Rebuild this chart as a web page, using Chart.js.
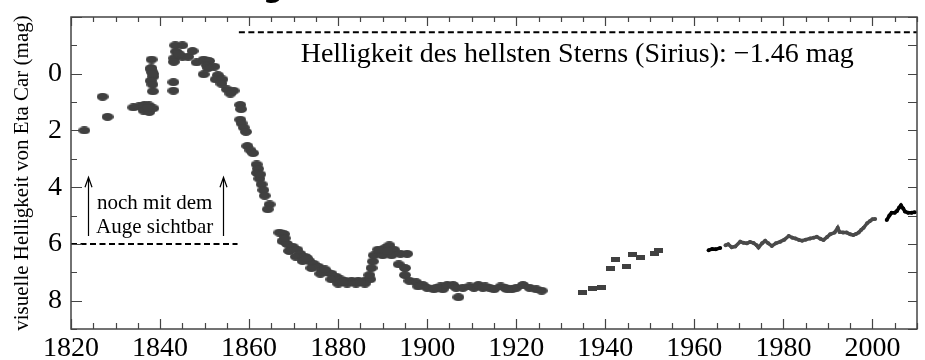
<!DOCTYPE html>
<html>
<head>
<meta charset="utf-8">
<script src="https://cdn.jsdelivr.net/npm/chart.js@4.4.1/dist/chart.umd.min.js"></script>
<style>
  html, body { margin: 0; padding: 0; background: #fff; }
  #wrap { position: relative; width: 925px; height: 360px; }
</style>
</head>
<body>
<div id="wrap"><canvas id="lightcurve" width="925" height="360"></canvas></div>
<script>
/* axis labels */
var xLabels = [1820, 1840, 1860, 1880, 1900, 1920, 1940, 1960, 1980, 2000];
var yLabels = [0, 2, 4, 6, 8];

/* historical visual estimates, 1822-1926 */
var histYears = [1823.0, 1827.1, 1828.2, 1834.0, 1835.3, 1836.5, 1837.5, 1836.3, 1837.6, 1838.5,
  1838.1, 1838.0, 1838.3, 1838.5, 1837.9, 1838.3, 1838.4, 1843.0, 1843.0, 1843.4,
  1845.0, 1843.6, 1843.2, 1845.0, 1846.3, 1843.1, 1847.3, 1848.2, 1849.8, 1851.0,
  1850.5, 1852.2, 1849.8, 1853.0, 1852.5, 1854.0, 1855.0, 1856.5, 1855.8, 1858.0,
  1858.2, 1858.0, 1858.3, 1858.8, 1859.3, 1859.6, 1860.3, 1860.9, 1861.7, 1862.0,
  1861.8, 1862.3, 1862.8, 1863.2, 1863.5, 1864.6, 1864.2, 1866.8, 1867.8, 1867.5,
  1868.5, 1869.8, 1869.0, 1870.8, 1871.5, 1870.5, 1872.5, 1873.5, 1872.0, 1874.5,
  1875.5, 1874.0, 1876.5, 1877.5, 1876.0, 1878.5, 1879.5, 1878.5, 1880.5, 1881.5,
  1883.0, 1884.5, 1886.0, 1887.2, 1880.0, 1882.0, 1884.0, 1886.0, 1887.0, 1887.5,
  1887.8, 1888.0, 1889.5, 1890.5, 1891.5, 1892.5, 1890.0, 1892.0, 1894.0, 1895.5,
  1893.6, 1895.0, 1895.0, 1896.0, 1897.5, 1899.0, 1898.0, 1900.0, 1901.5, 1903.0,
  1903.5, 1904.5, 1905.8, 1906.5, 1907.0, 1908.0, 1909.5, 1910.5, 1911.5, 1912.5,
  1914.0, 1915.0, 1916.5, 1917.5, 1919.0, 1920.0, 1921.5, 1923.0, 1924.5, 1925.7,
  1838.0, 1838.4, 1837.2, 1844.2, 1850.8, 1853.8, 1862.5, 1868.0, 1873.0, 1877.0,
  1881.0, 1885.0, 1889.0, 1891.0, 1902.0, 1913.0, 1918.0];
var histMags = [2.0, 0.81, 1.52, 1.19, 1.15, 1.1, 1.12, 1.3, 1.35, 1.22,
  -0.5, -0.2, -0.05, 0.1, 0.25, 0.38, 0.62, 0.30, 0.6, -1.0,
  -1.0, -0.78, -0.55, -0.6, -0.6, -0.42, -0.8, -0.4, -0.5, -0.45,
  -0.3, -0.25, 0.02, 0.05, 0.2, 0.2, 0.55, 0.6, 0.7, 1.1,
  1.25, 1.62, 1.75, 1.9, 2.05, 2.55, 2.7, 2.8, 3.2, 3.35,
  3.5, 3.7, 3.9, 4.1, 4.3, 4.61, 4.78, 5.6, 5.65, 5.9,
  6.0, 6.1, 6.25, 6.2, 6.35, 6.45, 6.45, 6.6, 6.6, 6.7,
  6.8, 6.85, 6.95, 7.0, 7.05, 7.05, 7.15, 7.25, 7.25, 7.3,
  7.3, 7.3, 7.3, 7.25, 7.4, 7.4, 7.4, 7.4, 7.1, 6.85,
  6.62, 6.4, 6.3, 6.15, 6.05, 6.2, 6.4, 6.4, 6.35, 6.35,
  6.72, 6.85, 7.1, 7.3, 7.35, 7.45, 7.5, 7.55, 7.6, 7.5,
  7.6, 7.45, 7.45, 7.55, 7.88, 7.55, 7.5, 7.55, 7.45, 7.55,
  7.55, 7.6, 7.5, 7.55, 7.6, 7.55, 7.45, 7.55, 7.6, 7.65,
  -0.15, 0.0, 1.2, -0.7, -0.2, 0.35, 3.55, 5.8, 6.5, 6.9,
  7.35, 7.35, 6.2, 6.25, 7.55, 7.5, 7.6];

/* photographic values, 1934-1952 */
var photoYears = [1934.8, 1937.1, 1939.1, 1941.2, 1942.3, 1944.7, 1946.0, 1948.0, 1951.0, 1952.0];
var photoMags  = [7.73, 7.57, 7.54, 6.85, 6.55, 6.8, 6.36, 6.48, 6.33, 6.22];

/* photoelectric series */
var earlyYears = [1963.2, 1964.0, 1964.8, 1965.8];
var earlyMags  = [6.22, 6.18, 6.19, 6.14];

var modernYears = [1967.0, 1967.6, 1968.4, 1969.2, 1970.3, 1971.0, 1971.8, 1972.5, 1973.3, 1974.0,
  1974.4, 1975.2, 1975.9, 1976.6, 1977.4, 1978.3, 1979.3, 1980.2, 1981.2, 1982.0,
  1982.7, 1983.5, 1984.2, 1985.0, 1986.0, 1986.8, 1987.5, 1988.3, 1989.0, 1989.8,
  1990.5, 1991.5, 1992.2, 1992.6, 1993.4, 1994.2, 1995.0, 1995.7, 1996.3, 1996.9,
  1997.5, 1998.0, 1998.8, 1999.4, 2000.0, 2000.6];
var modernMags = [6.05, 6.01, 6.12, 6.09, 5.92, 5.96, 5.98, 5.93, 5.97, 6.05,
  6.13, 5.98, 5.89, 5.98, 6.07, 5.98, 5.92, 5.85, 5.72, 5.78,
  5.81, 5.86, 5.89, 5.85, 5.81, 5.78, 5.75, 5.82, 5.86, 5.76,
  5.66, 5.6, 5.43, 5.58, 5.6, 5.6, 5.66, 5.69, 5.65, 5.6,
  5.5, 5.43, 5.27, 5.2, 5.13, 5.12];

var recentYears = [2003.2, 2003.8, 2004.3, 2005.0, 2005.5, 2006.0, 2006.4, 2006.9, 2007.3, 2008.0, 2008.8, 2009.5];
var recentMags  = [5.16, 5.0, 4.9, 4.9, 4.84, 4.72, 4.64, 4.75, 4.86, 4.9, 4.9, 4.88];

/* reference levels */
var siriusMag = -1.46;
var siriusYears = [1857.7, 2010];
var nakedEyeMag = 6;
var nakedEyeYears = [1820, 1857.4];

var serif = '"Liberation Serif", "Times New Roman", serif';
var pointGrey = '#404040';

function toPoints(xs, ys) {
  var pts = [];
  for (var i = 0; i < xs.length; i++) {
    pts.push({ x: xs[i], y: ys[i] });
  }
  return pts;
}

/* small offscreen sprites used as point styles */
function makeSprite(w, h, rounded) {
  var c = document.createElement('canvas');
  c.width = w;
  c.height = h;
  var g = c.getContext('2d');
  g.fillStyle = pointGrey;
  if (rounded) {
    g.beginPath();
    g.ellipse(w / 2, h / 2, w / 2, h / 2, 0, 0, Math.PI * 2);
    g.fill();
  } else {
    g.fillRect(0, 0, w, h);
  }
  return c;
}

var blob = makeSprite(12, 8, true);
var bar = makeSprite(9, 5, false);

/* axes keep exactly the size we give them, no label overhang */
function fixSize(prop, size) {
  return function(scale) {
    scale[prop] = size;
    scale.paddingTop = 0;
    scale.paddingBottom = 0;
    scale.paddingLeft = 0;
    scale.paddingRight = 0;
  };
}

/* frame, inward ticks, notes and arrows */
var decorations = {
  id: 'decorations',
  afterDraw: function(chart) {
    var ctx = chart.ctx;
    var a = chart.chartArea;
    var xs = chart.scales.x;
    var ys = chart.scales.y;

    ctx.save();
    ctx.strokeStyle = '#444';
    ctx.lineWidth = 1.5;
    ctx.strokeRect(a.left, a.top, a.right - a.left, a.bottom - a.top);

    ctx.lineWidth = 1.2;
    ctx.beginPath();
    for (var yr = 1820; yr <= 2010; yr += 5) {
      var px = Math.round(xs.getPixelForValue(yr)) + 0.5;
      var len = (yr % 20 === 0) ? 10 : 6;
      ctx.moveTo(px, a.bottom);
      ctx.lineTo(px, a.bottom - len);
      ctx.moveTo(px, a.top);
      ctx.lineTo(px, a.top + len - 1);
    }
    for (var m = -2; m <= 9; m++) {
      var py = Math.round(ys.getPixelForValue(m)) + 0.5;
      var l = (m % 2 === 0) ? 11 : 6;
      ctx.moveTo(a.left, py);
      ctx.lineTo(a.left + l, py);
      ctx.moveTo(a.right, py);
      ctx.lineTo(a.right - 9, py);
    }
    ctx.stroke();

    ctx.fillStyle = '#000';
    ctx.textAlign = 'center';
    ctx.textBaseline = 'alphabetic';
    ctx.font = '28px ' + serif;
    ctx.fillText('Helligkeit des hellsten Sterns (Sirius): \u22121.46 mag',
      xs.getPixelForValue(1933.7), ys.getPixelForValue(-0.41));

    ctx.font = '21px ' + serif;
    ctx.fillText('noch mit dem', xs.getPixelForValue(1838.8), ys.getPixelForValue(4.78));
    ctx.fillText('Auge sichtbar', xs.getPixelForValue(1838.8), ys.getPixelForValue(5.62));

    /* open arrows pointing to brighter magnitudes */
    ctx.strokeStyle = '#000';
    ctx.lineWidth = 1.2;
    [1823.8, 1854.1].forEach(function(yr) {
      var ax = Math.round(xs.getPixelForValue(yr)) + 0.5;
      var y0 = ys.getPixelForValue(5.72);
      var y1 = ys.getPixelForValue(3.65);
      ctx.beginPath();
      ctx.moveTo(ax, y0);
      ctx.lineTo(ax, y1);
      ctx.moveTo(ax - 3.5, y1 + 10);
      ctx.lineTo(ax, y1);
      ctx.lineTo(ax + 3.5, y1 + 10);
      ctx.stroke();
    });

    /* tail of the heading above the figure */
    ctx.font = 'bold 28px "DejaVu Sans", sans-serif';
    ctx.fillText('g', 273, -3);
    ctx.restore();
  }
};

var chart = new Chart(document.getElementById('lightcurve'), {
  type: 'scatter',
  data: {
    datasets: [
      {
        data: toPoints(histYears, histMags),
        pointStyle: blob,
        backgroundColor: pointGrey,
        borderWidth: 0
      },
      {
        data: toPoints(photoYears, photoMags),
        pointStyle: bar,
        backgroundColor: pointGrey,
        borderWidth: 0
      },
      {
        data: toPoints(modernYears, modernMags),
        showLine: true,
        borderColor: '#4a4a4a',
        borderWidth: 3.5,
        pointRadius: 2,
        backgroundColor: '#4a4a4a',
        pointBorderWidth: 0
      },
      {
        data: toPoints(earlyYears, earlyMags),
        showLine: true,
        borderColor: '#000',
        borderWidth: 3.5,
        pointRadius: 2,
        backgroundColor: '#000',
        pointBorderWidth: 0
      },
      {
        data: toPoints(recentYears, recentMags),
        showLine: true,
        borderColor: '#000',
        borderWidth: 3.5,
        pointRadius: 2,
        backgroundColor: '#000',
        pointBorderWidth: 0
      },
      {
        data: toPoints(siriusYears, [siriusMag, siriusMag]),
        showLine: true,
        borderColor: '#000',
        borderWidth: 2,
        borderDash: [6, 3.5],
        pointRadius: 0
      },
      {
        data: toPoints(nakedEyeYears, [nakedEyeMag, nakedEyeMag]),
        showLine: true,
        borderColor: '#000',
        borderWidth: 2,
        borderDash: [6, 3.5],
        pointRadius: 0
      }
    ]
  },
  options: {
    responsive: false,
    animation: false,
    events: [],
    layout: { padding: { top: 17, right: 8, left: 0, bottom: 0 } },
    plugins: {
      legend: { display: false },
      tooltip: { enabled: false }
    },
    scales: {
      x: {
        type: 'linear',
        min: 1820,
        max: 2010,
        grid: { display: false, drawTicks: false },
        border: { display: false },
        afterBuildTicks: function(scale) {
          scale.ticks = xLabels.map(function(v) { return { value: v }; });
        },
        afterFit: fixSize('height', 31),
        ticks: {
          padding: 3,
          color: '#000',
          maxRotation: 0,
          autoSkip: false,
          font: { family: serif, size: 28 },
          callback: function(v) { return String(v); }
        }
      },
      y: {
        type: 'linear',
        reverse: true,
        min: -2,
        max: 9,
        grid: { display: false, drawTicks: false },
        border: { display: false },
        afterBuildTicks: function(scale) {
          scale.ticks = yLabels.map(function(v) { return { value: v }; });
        },
        afterFit: fixSize('width', 71),
        ticks: {
          padding: 9,
          color: '#000',
          font: { family: serif, size: 28 },
          callback: function(v) { return String(v); }
        },
        title: {
          display: true,
          text: 'visuelle Helligkeit von Eta Car (mag)',
          color: '#000',
          font: { family: serif, size: 21, weight: 'normal' },
          padding: { top: 10, bottom: 0 }
        }
      }
    }
  },
  plugins: [decorations]
});
</script>
</body>
</html>
